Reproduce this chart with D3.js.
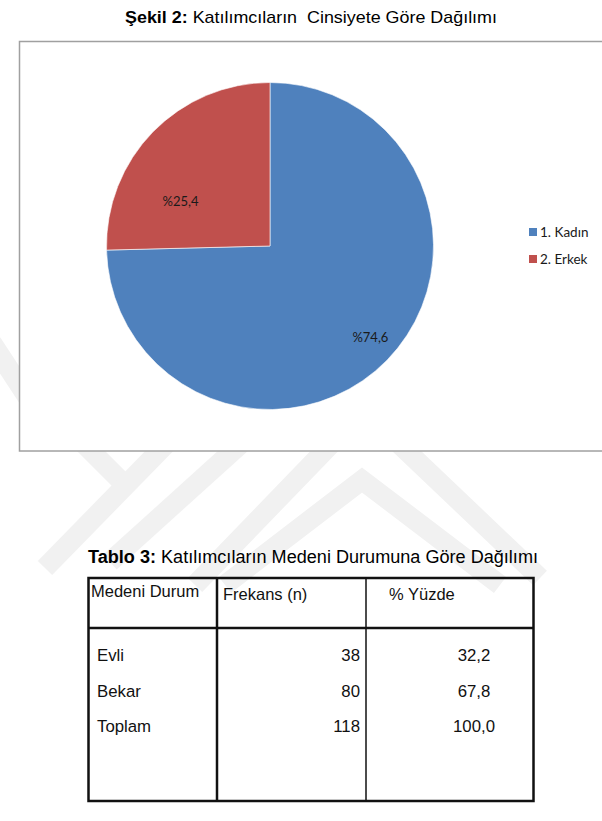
<!DOCTYPE html>
<html><head><meta charset="utf-8">
<script src="https://cdn.jsdelivr.net/npm/d3@7"></script>
<style>
html,body{margin:0;padding:0;background:#fff;}
svg{display:block;}
</style></head>
<body>
<script>
// ---- data ----
const pieCategories = ["1. Kadın", "2. Erkek"];
const pieValues = [74.6, 25.4];
const pieLabels = ["%74,6", "%25,4"];
const pieColors = ["#4F81BD", "#C0504D"];

const tableHeaders = ["Medeni Durum", "Frekans (n)", "% Yüzde"];
const tableCategories = ["Evli", "Bekar", "Toplam"];
const tableFrequencies = [38, 80, 118];
const tablePercents = ["32,2", "67,8", "100,0"];

const chartTitleBold = "Şekil 2:";
const chartTitleRest = " Katılımcıların  Cinsiyete Göre Dağılımı";
const tableTitleBold = "Tablo 3:";
const tableTitleRest = " Katılımcıların Medeni Durumuna Göre Dağılımı";

// ---- layout ----
const W = 602, H = 821;
const svg = d3.select("body").append("svg").attr("width", W).attr("height", H);

// faint watermark
const wm = svg.append("g").attr("fill", "none").attr("stroke", "#f1f1f1").attr("stroke-width", 20).attr("stroke-linecap", "butt");
const wmPaths = [
  [[-8, 343], [28, 398]],
  [[80, 440], [128, 488]],
  [[170, 440], [45, 568]],
  [[245, 440], [110, 562]],
  [[335, 440], [195, 585]],
  [[395, 440], [540, 578]],
  [[225, 585], [362, 480], [500, 585]]
];
wmPaths.forEach(p => wm.append("path").attr("d", d3.line()(p)));

// chart frame
svg.append("rect").attr("x", 19.5).attr("y", 41.5).attr("width", 600).attr("height", 409.5)
  .attr("fill", "#fff").attr("stroke", "#a0a0a0").attr("stroke-width", 1.5);

const font = "Liberation Sans, Arial, sans-serif";

// chart title
const t1 = svg.append("text").attr("x", 125).attr("y", 23).attr("text-anchor", "start")
  .attr("font-family", font).attr("font-size", 17).attr("fill", "#000")
  .attr("textLength", 372).attr("lengthAdjust", "spacingAndGlyphs").style("white-space", "pre");
t1.append("tspan").attr("font-weight", "bold").text(chartTitleBold);
t1.append("tspan").text(chartTitleRest);

// pie
const cx = 270, cy = 246, R = 163.5;
const pie = d3.pie().sort(null).value(d => d).startAngle(0).endAngle(2 * Math.PI);
const arcs = pie(pieValues);
const arc = d3.arc().innerRadius(0).outerRadius(R);
const color = d3.scaleOrdinal().domain(pieCategories).range(pieColors);
const g = svg.append("g").attr("transform", `translate(${cx},${cy})`);
g.selectAll("path.slice").data(arcs).join("path").attr("class", "slice")
  .attr("d", arc).attr("fill", (d, i) => color(pieCategories[i]))
  .attr("stroke", "#fff").attr("stroke-width", 0.6);

// label placement (fraction of radius, angle shift in degrees)
const labelPlace = [{ r: 0.83, da: -2 }, { r: 0.61, da: -18 }];
g.selectAll("text.lbl").data(arcs).join("text").attr("class", "lbl")
  .attr("transform", (d, i) => {
    const a = (d.startAngle + d.endAngle) / 2 + labelPlace[i].da * Math.PI / 180;
    const rr = R * labelPlace[i].r;
    return `translate(${rr * Math.sin(a)},${-rr * Math.cos(a)})`;
  })
  .attr("text-anchor", "middle").attr("dy", "0.35em")
  .attr("font-family", "Lato, 'Open Sans', sans-serif").attr("font-size", 13).attr("fill", "#1a1a1a")
  .text((d, i) => pieLabels[i]);

// legend
const leg = svg.append("g").attr("transform", "translate(529,232)");
const legY = d3.scalePoint().domain(pieCategories).range([0, 27]);
pieCategories.forEach((c, i) => {
  leg.append("rect").attr("x", 0).attr("y", legY(c) - 4).attr("width", 8).attr("height", 8).attr("fill", color(c));
  leg.append("text").attr("x", 11).attr("y", legY(c)).attr("dy", "0.35em")
    .attr("font-family", "Lato, 'Open Sans', sans-serif").attr("font-size", 13.5).attr("fill", "#1a1a1a").text(c);
});

// table title
const t2 = svg.append("text").attr("x", 88).attr("y", 563).attr("text-anchor", "start")
  .attr("font-family", font).attr("font-size", 17.5).attr("fill", "#000")
  .attr("textLength", 450).attr("lengthAdjust", "spacingAndGlyphs");
t2.append("tspan").attr("font-weight", "bold").text(tableTitleBold);
t2.append("tspan").text(tableTitleRest);

// table
const tx0 = 88.5, tx1 = 533.5, ty0 = 578, ty1 = 801, tyHead = 628;
const colX = [tx0, 217, 366, tx1];
const tg = svg.append("g").attr("stroke", "#111").attr("fill", "none");
tg.append("rect").attr("x", tx0).attr("y", ty0).attr("width", tx1 - tx0).attr("height", ty1 - ty0).attr("stroke-width", 2.5);
tg.append("line").attr("x1", tx0).attr("x2", tx1).attr("y1", tyHead).attr("y2", tyHead).attr("stroke-width", 2.5);
tg.append("line").attr("x1", colX[1]).attr("x2", colX[1]).attr("y1", ty0).attr("y2", ty1).attr("stroke-width", 2.5);
tg.append("line").attr("x1", colX[2]).attr("x2", colX[2]).attr("y1", ty0).attr("y2", ty1).attr("stroke-width", 1.5);

const hdrX = [91, 223, 389];
tableHeaders.forEach((h, i) => {
  svg.append("text").attr("x", hdrX[i]).attr("y", i === 0 ? 597 : 600)
    .attr("font-family", font).attr("font-size", 16.5).attr("fill", "#111").text(h);
});
const rowY = d3.scalePoint().domain(tableCategories).range([661, 732]);
tableCategories.forEach((c, i) => {
  const y = rowY(c);
  svg.append("text").attr("x", 97).attr("y", y).attr("font-family", font).attr("font-size", 16.8).attr("fill", "#111").text(c);
  svg.append("text").attr("x", 360).attr("y", y).attr("text-anchor", "end").attr("font-family", font).attr("font-size", 16.8).attr("fill", "#111").text(tableFrequencies[i]);
  svg.append("text").attr("x", 474).attr("y", y).attr("text-anchor", "middle").attr("font-family", font).attr("font-size", 16.8).attr("fill", "#111").text(tablePercents[i]);
});
</script>
</body></html>
